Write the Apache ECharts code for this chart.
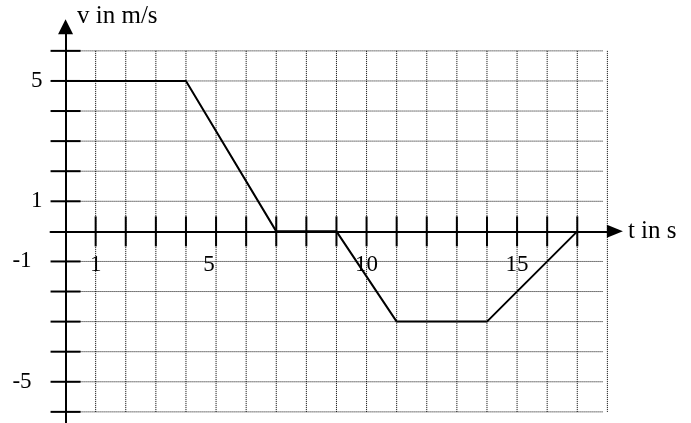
<!DOCTYPE html>
<html>
<head>
<meta charset="utf-8">
<script src="https://cdn.jsdelivr.net/npm/echarts@6/dist/echarts.min.js"></script>
<style>
  html, body { margin: 0; padding: 0; background: #fff; }
  #chart { width: 691px; height: 423px; }
</style>
</head>
<body>
<div id="chart"></div>
<script>
// Velocity-time diagram: piecewise linear v(t)
const timeValues = [0, 4, 7, 9, 11, 14, 17];
const velocityValues = [5, 5, 0, 0, -3, -3, 0];

// Axis labels and tick positions
const xLabelValues = [1, 5, 10, 15];
const yLabelValues = [5, 1, -1, -5];
const xTickValues = [1, 2, 3, 4, 5, 6, 7, 8, 9, 10, 11, 12, 13, 14, 15, 16, 17];
const yTickValues = [-6, -5, -4, -3, -2, -1, 1, 2, 3, 4, 5, 6];

// Dotted grid lines
const xGridValues = [1, 2, 3, 4, 5, 6, 7, 8, 9, 10, 11, 12, 13, 14, 15, 16, 17, 18];
const yGridValues = [-6, -5, -4, -3, -2, -1, 1, 2, 3, 4, 5, 6];

const FONT = '"Liberation Serif", "Times New Roman", serif';
const GRID_X_END = 17.85;
const GRID_Y_MIN = -6, GRID_Y_MAX = 6;
const TICK_HALF = 15;

const chart = echarts.init(document.getElementById('chart'), null, { renderer: 'canvas' });

const dotted = { stroke: '#000', lineWidth: 1, lineDash: [1, 1] };
const solid = { stroke: '#000', lineWidth: 2 };
const labelStyle = { fontFamily: FONT, fontSize: 23, fill: '#000' };

chart.setOption({
  animation: false,
  backgroundColor: '#fff',
  title: {
    text: 'v in m/s',
    left: 72,
    top: -1,
    textStyle: { fontFamily: FONT, fontSize: 25, fontWeight: 'normal', color: '#000' }
  },
  grid: { left: 50.5, top: 26.8, width: 564.4, height: 397.1, containLabel: false, outerBoundsMode: 'none' },
  xAxis: {
    type: 'value',
    min: -0.5,
    max: 18.25,
    name: 't in s',
    nameLocation: 'end',
    nameGap: 13,
    nameTextStyle: { fontFamily: FONT, fontSize: 25, color: '#000', verticalAlign: 'middle' },
    axisLine: {
      onZero: true,
      lineStyle: { color: '#000', width: 2 },
      symbol: ['none', 'triangle'],
      symbolSize: [13, 16]
    },
    axisTick: { show: false },
    splitLine: { show: false },
    axisLabel: { show: false }
  },
  yAxis: {
    type: 'value',
    min: -6.4,
    max: 6.8,
    axisLine: {
      onZero: true,
      lineStyle: { color: '#000', width: 2 },
      symbol: ['none', 'triangle'],
      symbolSize: [15, 15]
    },
    axisTick: { show: false },
    splitLine: { show: false },
    axisLabel: { show: false }
  },
  series: [
    {
      // horizontal dotted grid lines
      type: 'custom',
      silent: true,
      z: 1,
      data: yGridValues.map(v => [0, v]),
      renderItem: function (params, api) {
        const v = api.value(1);
        const a = api.coord([0, v]);
        const b = api.coord([GRID_X_END, v]);
        return { type: 'line', shape: { x1: a[0], y1: a[1], x2: b[0], y2: b[1] }, style: dotted };
      }
    },
    {
      // vertical dotted grid lines
      type: 'custom',
      silent: true,
      z: 1,
      data: xGridValues.map(v => [v, 0]),
      renderItem: function (params, api) {
        const v = api.value(0);
        const a = api.coord([v, GRID_Y_MIN]);
        const b = api.coord([v, GRID_Y_MAX]);
        return { type: 'line', shape: { x1: a[0], y1: a[1], x2: b[0], y2: b[1] }, style: dotted };
      }
    },
    {
      // tick marks crossing the time axis
      type: 'custom',
      silent: true,
      z: 3,
      data: xTickValues.map(v => [v, 0]),
      renderItem: function (params, api) {
        const p = api.coord([api.value(0), 0]);
        return { type: 'line', shape: { x1: p[0], y1: p[1] - TICK_HALF, x2: p[0], y2: p[1] + TICK_HALF }, style: solid };
      }
    },
    {
      // tick marks crossing the velocity axis
      type: 'custom',
      silent: true,
      z: 3,
      data: yTickValues.map(v => [0, v]),
      renderItem: function (params, api) {
        const p = api.coord([0, api.value(1)]);
        return { type: 'line', shape: { x1: p[0] - TICK_HALF, y1: p[1], x2: p[0] + TICK_HALF, y2: p[1] }, style: solid };
      }
    },
    {
      // time labels below the axis
      type: 'custom',
      silent: true,
      z: 5,
      data: xLabelValues.map(v => [v, 0]),
      renderItem: function (params, api) {
        const v = api.value(0);
        const p = api.coord([v, 0]);
        return {
          type: 'text',
          x: p[0] - (v === 5 ? 7 : 0),
          y: p[1] + 34,
          style: Object.assign({ text: String(v), align: 'center', verticalAlign: 'middle' }, labelStyle)
        };
      }
    },
    {
      // velocity labels left of the axis
      type: 'custom',
      silent: true,
      z: 5,
      data: yLabelValues.map(v => [0, v]),
      renderItem: function (params, api) {
        const v = api.value(1);
        const p = api.coord([0, v]);
        return {
          type: 'text',
          x: p[0] - (v < 0 ? 34 : 23),
          y: p[1],
          style: Object.assign({ text: String(v), align: 'right', verticalAlign: 'middle' }, labelStyle)
        };
      }
    },
    {
      name: 'v(t)',
      type: 'line',
      z: 4,
      data: timeValues.map((t, i) => [t, velocityValues[i]]),
      showSymbol: false,
      symbol: 'none',
      lineStyle: { color: '#000', width: 2 }
    }
  ]
});
</script>
</body>
</html>
